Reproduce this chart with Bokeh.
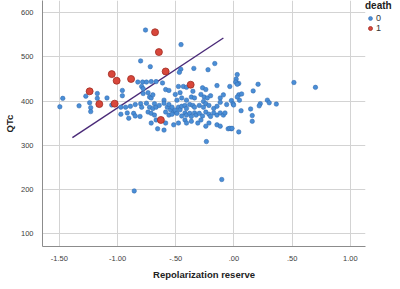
from bokeh.plotting import figure
from bokeh.models import ColumnDataSource, Legend, LegendItem, FixedTicker
from bokeh.embed import file_html
from bokeh.resources import INLINE

# ---- data ----
alive_x = [
    -0.826, -0.785, -0.752, -0.711, -0.669, -0.793, -0.780, -0.614, -0.587, -0.559,
    -0.477, -0.435, -0.408, -0.353, -0.270, -0.242, -0.146, -0.036, 0.025,
    -0.959, -0.959, -0.780, -0.738, -0.725, -0.711, -0.697, -0.601, -0.504, -0.463,
    -0.449, -0.490, -0.408, -0.366, -0.339, -0.284, -0.256, -0.229, -0.262, -0.201,
    -0.118, -0.091, -0.022, 0.041, 0.047,
    -0.972, -0.931, -0.890, -0.848, -0.802, -0.793, -0.752, -0.725, -0.697, -0.683,
    -0.669, -0.642, -0.601, -0.573, -0.559, -0.545, -0.532, -0.518, -0.504, -0.477,
    -0.463, -0.449, -0.421, -0.408, -0.380, -0.353, -0.339, -0.298, -0.262, -0.242,
    -0.215, -0.174, -0.146, -0.118, -0.063, -0.008,
    -0.972, -0.917, -0.904, -0.862, -0.848, -0.807, -0.738, -0.711, -0.683, -0.587,
    -0.559, -0.532, -0.490, -0.449, -0.421, -0.408, -0.380, -0.366, -0.339, -0.325,
    -0.298, -0.270, -0.242, -0.215, -0.201, -0.174, -0.146, -0.118, -0.091, -0.077,
    -0.711, -0.669, -0.587, -0.518, -0.477, -0.421, -0.408, -0.366, -0.311, -0.284,
    -0.242, -0.215, -0.146, -0.118, -0.050, -0.022, -0.656, -0.601,
    -1.496, -1.471, -1.331, -1.273, -1.240, -1.231, -1.231, -1.174, -1.174, -1.091, -1.050,
    -0.760, -0.455, -0.802, -0.719, -0.345, -0.223, -0.165, -0.457, -0.469, 0.019, 0.041,
    0.028, 0.014, 0.028, 0.207, 0.165, 0.066, 0.028, 0.515, 0.700, 0.287,
    0.303, 0.364, 0.226, 0.217, -0.003, 0.061, 0.143, 0.157, 0.157, 0.041,
    -0.105, -0.857, -0.237, -0.036, -0.017,
]
alive_y = [
    443, 443, 443, 444, 444, 433, 428, 441, 426, 424,
    433, 433, 431, 422, 430, 426, 435, 433, 441,
    424, 412, 417, 419, 409, 407, 414, 402, 415, 419,
    407, 402, 402, 409, 407, 415, 409, 407, 399, 412,
    407, 414, 401, 414, 402,
    386, 386, 388, 392, 394, 386, 395, 386, 383, 394,
    386, 390, 395, 386, 392, 380, 386, 375, 379, 386,
    380, 388, 390, 383, 392, 390, 386, 390, 386, 394,
    390, 383, 388, 397, 392, 394,
    370, 373, 361, 372, 366, 365, 375, 372, 368, 375,
    368, 370, 372, 366, 373, 368, 372, 365, 373, 368,
    372, 366, 375, 370, 365, 373, 368, 373, 368, 373,
    350, 357, 350, 346, 350, 357, 350, 354, 350, 357,
    343, 350, 346, 343, 337, 337, 337, 334,
    387, 406, 389, 411, 396, 385, 376, 417, 406, 407, 391,
    561, 528, 491, 478, 474, 471, 485, 472, 465, 450, 440,
    460, 443, 438, 438, 423, 416, 409, 442, 431, 402,
    396, 393, 394, 389, 391, 378, 382, 367, 354, 330,
    222, 196, 308, 338, 338,
]
dead_x = [-1.240, -1.157, -1.050, -1.008, -1.025, -0.884, -0.678, -0.645, -0.587, -0.372, -0.628]
dead_y = [422, 393, 461, 446, 394, 450, 556, 511, 467, 437, 357]

line_x = [-1.388, -0.091]
line_y = [317, 543]

x_ticks = [-1.5, -1.0, -0.5, 0.0, 0.5, 1.0]
x_tick_labels = ["-1.50", "-1.00", "-.50", ".00", ".50", "1.00"]
y_ticks = [100, 200, 300, 400, 500, 600]

FW, FH = 323, 246

p = figure(frame_width=FW, frame_height=FH, output_backend="svg", toolbar_location=None,
           x_range=(-1.645, 1.13), y_range=(70, 628),
           min_border_left=0, min_border_right=0, min_border_top=0, min_border_bottom=0)
p.outline_line_color = None
p.background_fill_color = "white"
p.border_fill_color = "white"

for ax in (p.xaxis[0], p.yaxis[0]):
    ax.axis_line_color = "#8c8c8c"
    ax.major_tick_line_color = None
    ax.minor_tick_line_color = None
    ax.major_label_text_font = "Liberation Sans"
    ax.major_label_text_font_size = "7.5px"
    ax.major_label_text_color = "#404040"
    ax.axis_label_text_font = "Liberation Sans"
    ax.axis_label_text_font_style = "bold"
    ax.axis_label_text_font_size = "9.5px"
    ax.axis_label_text_color = "#222222"
    ax.major_label_standoff = 3

p.xaxis.ticker = FixedTicker(ticks=x_ticks)
p.xaxis.major_label_overrides = {t: l for t, l in zip(x_ticks, x_tick_labels)}
p.yaxis.ticker = FixedTicker(ticks=y_ticks)
p.xaxis.axis_label = "Repolarization reserve"
p.yaxis.axis_label = "QTc"
p.xaxis.axis_label_standoff = 5
p.yaxis.axis_label_standoff = 3

p.xgrid.grid_line_color = "#d3d3d3"
p.ygrid.grid_line_color = "#d3d3d3"
p.xgrid.ticker = FixedTicker(ticks=x_ticks)
p.ygrid.ticker = FixedTicker(ticks=y_ticks)

p.line(line_x, line_y, line_color="#4a2a78", line_width=1.4)

src0 = ColumnDataSource(dict(x=alive_x, y=alive_y))
src1 = ColumnDataSource(dict(x=dead_x, y=dead_y))
r0 = p.scatter("x", "y", source=src0, size=4.5, fill_color="#4a8ed6",
               line_color="#2f66ad", line_width=0.5)
r1 = p.scatter("x", "y", source=src1, size=7, fill_color="#d8473b",
               line_color="#a02c22", line_width=0.8)

legend = Legend(items=[LegendItem(label="0", renderers=[r0]),
                       LegendItem(label="1", renderers=[r1])],
                title="death", location="top_left")
legend.title_text_font = "Liberation Sans"
legend.title_text_font_style = "bold"
legend.title_text_font_size = "10px"
legend.title_text_color = "#222222"
legend.title_standoff = 2
legend.label_text_font = "Liberation Sans"
legend.label_text_font_size = "9px"
legend.label_text_color = "#333333"
legend.glyph_width = 10
legend.glyph_height = 10
legend.label_standoff = 1
legend.label_height = 10
legend.spacing = 0
legend.padding = 2
legend.margin = 0
legend.border_line_color = None
legend.background_fill_alpha = 0
p.add_layout(legend, "right")

open("out.html", "w").write(file_html(p, INLINE))
